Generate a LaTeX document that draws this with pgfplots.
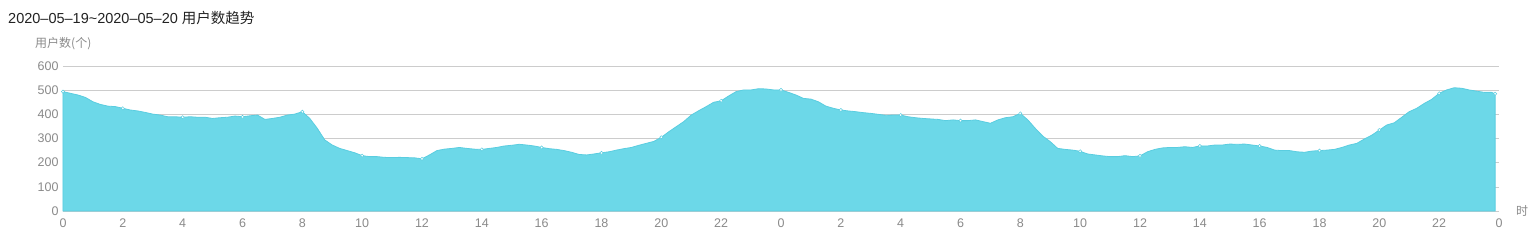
\documentclass[border=0pt]{standalone}
\usepackage{pgfplots}
\usepackage{pgfplotstable}
\pgfplotsset{compat=1.18}
\usepackage{fontspec}
\setmainfont{Liberation Sans}
\setsansfont{Liberation Sans}
\newfontfamily\cjk{Noto Sans CJK SC}
\definecolor{areafill}{HTML}{6CD8E8}
\definecolor{areaedge}{HTML}{5ACDE0}
\definecolor{gridc}{HTML}{CCCCCC}
\definecolor{tickc}{HTML}{8A8A8A}
\definecolor{titlec}{HTML}{222222}
\pgfplotstableread{
h v
0 494
0.25 487
0.5 480
0.75 470
1 452
1.25 441
1.5 434
1.75 432
2 425
2.25 418
2.5 414
2.75 408
3 401
3.25 397
3.5 390
3.75 390
4 388
4.25 390
4.5 388
4.75 388
5 383
5.25 386
5.5 388
5.75 393
6 390
6.25 394
6.5 397
6.75 379
7 383
7.25 388
7.5 397
7.75 401
8 411
8.25 383
8.5 342
8.75 294
9 273
9.25 259
9.5 250
9.75 241
10 229
10.25 225
10.5 225
10.75 222
11 221
11.25 222
11.5 221
11.75 220
12 216
12.25 232
12.5 250
12.75 256
13 259
13.25 263
13.5 259
13.75 256
14 255
14.25 259
14.5 263
14.75 269
15 272
15.25 276
15.5 273
15.75 269
16 263
16.25 258
16.5 255
16.75 250
17 243
17.25 234
17.5 232
17.75 236
18 241
18.25 245
18.5 252
18.75 258
19 263
19.25 272
19.5 280
19.75 288
20 305
20.25 328
20.5 349
20.75 370
21 397
21.25 415
21.5 432
21.75 450
22 456
22.25 476
22.5 494
22.75 501
23 501
23.25 506
23.5 505
23.75 501
24 501
24.25 491
24.5 480
24.75 466
25 463
25.25 452
25.5 434
25.75 425
26 418
26.25 414
26.5 411
26.75 407
27 404
27.25 400
27.5 396
27.75 397
28 397
28.25 390
28.5 386
28.75 383
29 381
29.25 379
29.5 374
29.75 377
30 374
30.25 374
30.5 377
30.75 370
31 363
31.25 377
31.5 386
31.75 390
32 404
32.25 377
32.5 342
32.75 310
33 287
33.25 259
33.5 255
33.75 252
34 247
34.25 236
34.5 232
34.75 228
35 225
35.25 225
35.5 229
35.75 225
36 228
36.25 245
36.5 255
36.75 261
37 263
37.25 263
37.5 266
37.75 263
38 269
38.25 269
38.5 273
38.75 273
39 277
39.25 276
39.5 277
39.75 273
40 269
40.25 263
40.5 252
40.75 250
41 250
41.25 245
41.5 243
41.75 248
42 250
42.25 252
42.5 255
42.75 263
43 273
43.25 280
43.5 298
43.75 314
44 335
44.25 356
44.5 365
44.75 388
45 411
45.25 425
45.5 445
45.75 462
46 487
46.25 501
46.5 510
46.75 508
47 501
47.25 496
47.5 491
47.75 491
47.87 485
}\datatable
\begin{document}
\begin{tikzpicture}
\useasboundingbox (-63pt,-31pt) rectangle (1476pt,211pt);
\begin{axis}[
  at={(0,0)}, anchor=south west,
  scale only axis,
  width=1436pt, height=145pt,
  xmin=0, xmax=48, ymin=0, ymax=600,
  axis line style={draw=none},
  axis x line*=bottom,
  axis y line*=left,
  tick style={draw=none},
  xtick={0,2,...,48},
  xticklabels={0,2,4,6,8,10,12,14,16,18,20,22,0,2,4,6,8,10,12,14,16,18,20,22,0},
  ytick={0,100,...,600},
  ymajorgrids,
  grid style={gridc, line width=0.6pt},
  /pgf/number format/assume math mode=true,
  ticklabel style={font=\fontsize{12.5}{14}\selectfont, text=tickc},
  xticklabel style={yshift=-4pt},
  yticklabel style={xshift=-1pt},
  clip=false,
]
\addplot[draw=areaedge, line width=0.8pt, fill=areafill] table[x=h, y=v] {\datatable} \closedcycle;
\addplot[only marks, each nth point=8, mark=*, mark size=1.6pt, mark options={fill=white, draw=areaedge, line width=0.5pt}] table[x=h, y=v] {\datatable};
\end{axis}
\node[anchor=west, inner sep=0pt, text=titlec, font=\fontsize{14.5}{16}\selectfont] at (-55pt,193pt) {2020–05–19\textasciitilde 2020–05–20 {\cjk 用户数趋势}};
\node[anchor=west, inner sep=0pt, text=tickc, font=\fontsize{12}{14}\selectfont] at (-28pt,167pt) {\cjk 用户数(个)};
\node[anchor=center, inner sep=0pt, text=tickc, font=\fontsize{12}{14}\selectfont] at (1459pt,0pt) {\cjk 时};
\end{tikzpicture}
\end{document}
